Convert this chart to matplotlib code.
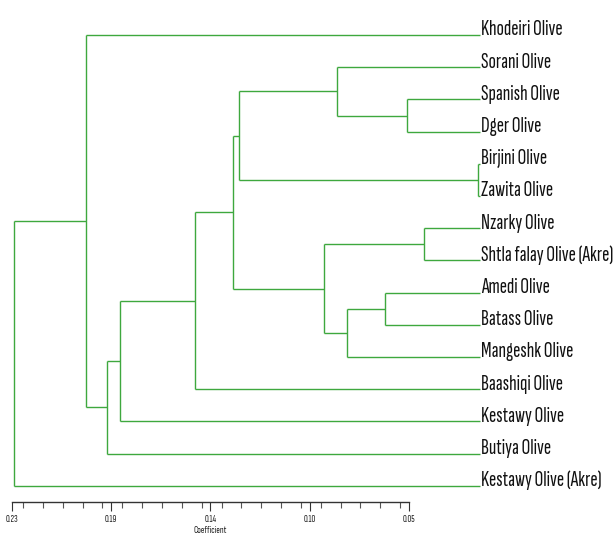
import matplotlib
matplotlib.use("Agg")
import matplotlib.pyplot as plt
from matplotlib import font_manager as fm
from matplotlib.font_manager import FontProperties
from matplotlib.textpath import TextPath
from matplotlib.ticker import FixedLocator, FixedFormatter, MultipleLocator

# ---- data ----
leaves = ["Khodeiri Olive", "Sorani Olive", "Spanish Olive", "Dger Olive",
          "Birjini Olive", "Zawita Olive", "Nzarky Olive", "Shtla falay Olive (Akre)",
          "Amedi Olive", "Batass Olive", "Mangeshk Olive", "Baashiqi Olive",
          "Kestawy Olive", "Butiya Olive", "Kestawy Olive (Akre)"]
leaf_height = 0.018
# merges: (child_a, child_b, coefficient); new node ids start at len(leaves)
merge_a = [4, 2, 1, 17, 6, 8, 20, 19, 18, 23, 24, 25, 0, 27]
merge_b = [5, 3, 16, 15, 7, 9, 10, 21, 22, 11, 12, 13, 26, 14]
merge_h = [0.0185, 0.0510, 0.0825, 0.1272, 0.0431, 0.0609, 0.0781, 0.0884,
           0.1297, 0.1472, 0.1812, 0.1869, 0.1966, 0.2293]
major_ticks = [0.23, 0.185, 0.14, 0.095, 0.05]
major_labels = ["0.23", "0.19", "0.14", "0.10", "0.05"]

GREEN = "#3ea83e"
DPI = 100

# choose a condensed font whose proportions best match the reference labels
available = {f.name for f in fm.fontManager.ttflist}
cands = ["Sofia Sans Extra Condensed", "Sofia Sans Condensed", "Pathway Gothic One",
         "Barlow Condensed", "Archivo Narrow", "Liberation Sans Narrow"]
target_cap, target_w = 17.5, 131.0


def metrics(name):
    prop = FontProperties(family=name)
    cap = TextPath((0, 0), "H", size=100, prop=prop).get_extents().height / 100
    wid = TextPath((0, 0), leaves[7], size=100, prop=prop).get_extents().width / 100
    return cap, wid


best = None
for c in cands:
    if c not in available:
        continue
    cap, wid = metrics(c)
    ratio = wid / cap
    score = abs(ratio - target_w / target_cap)
    if best is None or score < best[0]:
        best = (score, c, cap, wid)
if best:
    FONT = [best[1], "DejaVu Sans"]
    cap_em, wid_em = best[2], best[3]
else:
    FONT = ["DejaVu Sans"]
    cap_em, wid_em = metrics("DejaVu Sans")

px_per_pt = DPI / 72.0
size_cap = target_cap / (cap_em * px_per_pt)
size_wid = target_w / (wid_em * px_per_pt)
label_fs = min(size_cap, size_wid)
small_fs = 7.0 / (cap_em * px_per_pt)

fig = plt.figure(figsize=(6.13, 5.38), dpi=DPI)
ax = fig.add_axes([12 / 613, 36 / 538, (409 - 12) / 613, 502 / 538])

# node positions
ypos = {i: float(i) for i in range(len(leaves))}
xpos = {i: leaf_height for i in range(len(leaves))}
n = len(leaves)
for k, (a, b, h) in enumerate(zip(merge_a, merge_b, merge_h)):
    nid = n + k
    kw = dict(color=GREEN, lw=1.0, clip_on=False, solid_capstyle="butt")
    ax.plot([h, h], [ypos[a], ypos[b]], **kw)
    ax.plot([xpos[a], h], [ypos[a], ypos[a]], **kw)
    ax.plot([xpos[b], h], [ypos[b], ypos[b]], **kw)
    ypos[nid] = (ypos[a] + ypos[b]) / 2
    xpos[nid] = h

for i, name in enumerate(leaves):
    ax.text(leaf_height - 0.0008, i + 0.01, name, ha="left", va="baseline",
            fontsize=label_fs, family=FONT, color="#111111", clip_on=False)

ax.set_xlim(0.23, 0.05)
ax.set_ylim(14.503, -1.087)
for s in ("top", "left", "right"):
    ax.spines[s].set_visible(False)
ax.spines["bottom"].set_color("#333333")
ax.spines["bottom"].set_linewidth(1.0)
ax.set_yticks([])
ax.xaxis.set_major_locator(FixedLocator(major_ticks))
ax.xaxis.set_major_formatter(FixedFormatter(major_labels))
ax.xaxis.set_minor_locator(MultipleLocator(0.009))
ax.tick_params(axis="x", which="major", length=6.5, width=0.8, color="#333333",
               pad=3, labelsize=small_fs, labelcolor="#222222")
ax.tick_params(axis="x", which="minor", length=4.5, width=0.8, color="#555555")
for lab in ax.get_xticklabels():
    lab.set_family(FONT)
ax.set_xlabel("Coefficient", fontsize=small_fs, family=FONT, color="#222222", labelpad=1)

fig.savefig("out.png", dpi=DPI, facecolor="white")
